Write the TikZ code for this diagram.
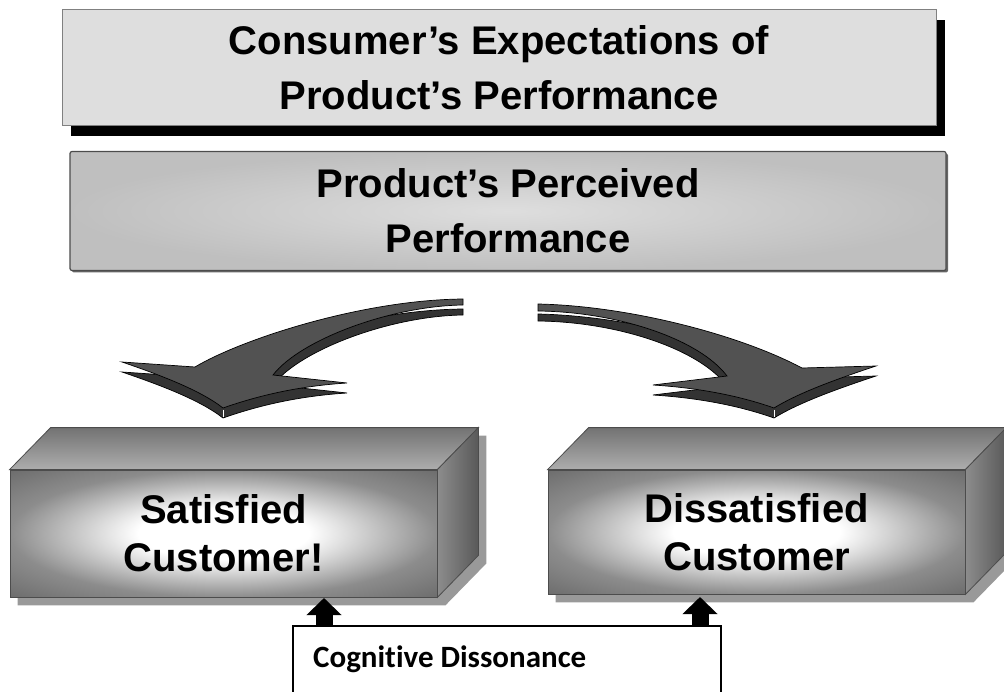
\documentclass[tikz,border=0pt]{standalone}
\usepackage{fontspec}
\setmainfont{Liberation Sans}
\newfontfamily\calfont[Ligatures=NoCommon]{Carlito}
\usetikzlibrary{arrows.meta,backgrounds,shadows}

\pgfdeclareradialshading{facelight}{\pgfpoint{0bp}{0bp}}{%
  color(0bp)=(white); color(10bp)=(white); color(25bp)=(black!45); color(36bp)=(black!58); color(50bp)=(black!60)}

\begin{document}
\begin{tikzpicture}[x=1pt,y=-1pt,
    expbox/.style={draw=black!50, line width=1pt, fill=black!13,
      minimum width=874pt, minimum height=116pt, align=center,
      general shadow={fill=black, shadow xshift=9pt, shadow yshift=-10pt},
      font=\bfseries\fontsize{40}{55}\selectfont},
    perfbox/.style={draw=black!70, line width=1.2pt, rounded corners=2pt,
      inner color=black!13, outer color=black!25,
      minimum width=876pt, minimum height=119pt, align=center,
      general shadow={fill=black!60, shadow xshift=2pt, shadow yshift=-2pt},
      font=\bfseries\fontsize{40}{55}\selectfont},
    front/.style={draw=black!70, line width=0.8pt, shading=facelight,
      align=center, font=\bfseries\fontsize{40}{48}\selectfont},
    topface/.style={draw=black!70, line width=0.8pt, top color=black!55, bottom color=black!32},
    sideface/.style={draw=black!70, line width=0.8pt, left color=black!45, right color=black!65},
    arrowtop/.style={draw=black, line width=0.7pt, fill=black!68},
    arrowside/.style={draw=black, line width=0.7pt, fill=black!80},
    uparrow/.style={line width=17pt, -{Triangle[width=34pt,length=17pt]}},
    cogbox/.style={draw=black, line width=1.5pt, fill=white}]

  \path[use as bounding box, clip] (0,0) rectangle (1004,692);

  % top boxes
  \node[expbox] (exp) at (499,68) {Consumer’s Expectations of\\Product’s Performance};
  \node[perfbox] (perf) at (508,211) {Product’s Perceived\\Performance};

  % curved arrows
  \fill[arrowside, yshift=-10pt] (463,299) .. controls (360,300) and (240,340) .. (195,367)
    -- (122,362) .. controls (160,375) and (200,390) .. (223,408)
    .. controls (260,395) and (300,386) .. (347,383) -- (273,375)
    .. controls (300,340) and (390,306) .. (463,305) -- cycle;
  \filldraw[arrowtop] (463,299) .. controls (360,300) and (240,340) .. (195,367)
    -- (122,362) .. controls (160,375) and (200,390) .. (223,408)
    .. controls (260,395) and (300,386) .. (347,383) -- (273,375)
    .. controls (300,340) and (390,306) .. (463,305) -- cycle;
  \draw[white, line width=1pt] (223,410) -- (223,417);

  \fill[arrowside, yshift=-10pt] (538,304) .. controls (630,306) and (740,335) .. (802,368)
    -- (876,366) .. controls (840,378) and (800,392) .. (774,408)
    .. controls (740,396) and (700,388) .. (653,385) -- (727,376)
    .. controls (700,340) and (620,312) .. (538,311) -- cycle;
  \filldraw[arrowtop] (538,304) .. controls (630,306) and (740,335) .. (802,368)
    -- (876,366) .. controls (840,378) and (800,392) .. (774,408)
    .. controls (740,396) and (700,388) .. (653,385) -- (727,376)
    .. controls (700,340) and (620,312) .. (538,311) -- cycle;
  \draw[white, line width=1pt] (774,410) -- (774,417);

  % customer blocks
  \node[front, minimum width=427pt, minimum height=127pt] (sat) at (223.5,533.5) {Satisfied\\Customer!};
  \node[front, minimum width=417pt, minimum height=124pt] (dis) at (756.5,532) {Dissatisfied\\Customer};
  \foreach \b in {sat,dis} {
    \draw[topface] (\b.north west) -- ++(41,-42) -- ([shift={(41,-42)}]\b.north east) -- (\b.north east) -- cycle;
    \draw[sideface] (\b.north east) -- ++(41,-42) -- ([shift={(41,-42)}]\b.south east) -- (\b.south east) -- cycle;
  }
  \begin{scope}[on background layer]
    \foreach \b in {sat,dis}
      \fill[black!40, transform canvas={xshift=8pt, yshift=-8pt}] (\b.south west) -- (\b.north west)
        -- ++(41,-42) -- ([shift={(41,-42)}]\b.north east) -- ([shift={(41,-42)}]\b.south east)
        -- (\b.south east) -- cycle;
  \end{scope}

  % cognitive dissonance
  \node[cogbox, minimum width=428pt, minimum height=80pt, anchor=north west] (cog) at (292,625) {};
  \node[anchor=base west, inner sep=0pt, font=\calfont\bfseries\fontsize{31}{36}\selectfont] (cogtext) at (313,667) {Cognitive Dissonance};
  \coordinate (tipL) at (324,598);
  \coordinate (tipR) at (700,597);
  \draw[uparrow] (cog.north -| tipL) -- (tipL);
  \draw[uparrow] (cog.north -| tipR) -- (tipR);
\end{tikzpicture}
\end{document}
